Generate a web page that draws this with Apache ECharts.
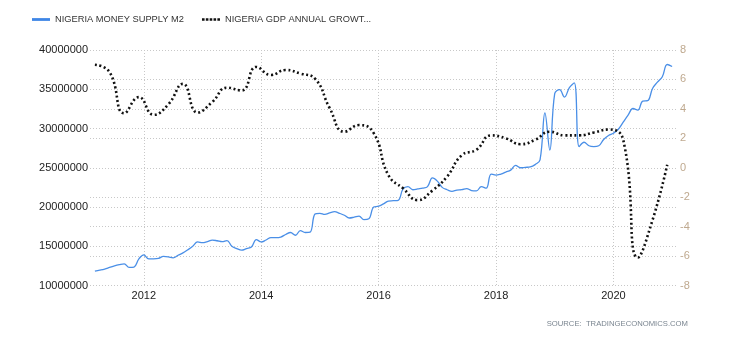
<!DOCTYPE html>
<html>
<head>
<meta charset="utf-8">
<title>Nigeria Money Supply M2 vs GDP Annual Growth</title>
<script src="https://cdn.jsdelivr.net/npm/echarts@6/dist/echarts.min.js"></script>
<style>
  html, body { margin: 0; padding: 0; background: #ffffff; }
  #chart { width: 730px; height: 340px; }
</style>
</head>
<body>
<div id="chart"></div>
<script>
// Money supply M2 (NGN), monthly, first value is March 2011
const m2_2011 = [11820000, 11950000, 12100000, 12300000, 12500000, 12650000, 12750000, 12300000, 12350000, 13400000];
const m2_2012 = [13900000, 13400000, 13400000, 13450000, 13700000, 13650000, 13530000, 13850000, 14150000, 14550000, 15000000, 15550000];
const m2_2013 = [15450000, 15600000, 15780000, 15700000, 15580000, 15720000, 15000000, 14700000, 14500000, 14700000, 14900000, 15850000];
const m2_2014 = [15550000, 15800000, 16100000, 16100000, 16170000, 16500000, 16750000, 16400000, 16980000, 16750000, 16800000, 19100000];
const m2_2015 = [19200000, 19060000, 19250000, 19400000, 19200000, 18950000, 18600000, 18700000, 18850000, 18400000, 18500000, 20000000];
const m2_2016 = [20100000, 20400000, 20750000, 20800000, 20850000, 22300000, 22600000, 22200000, 22300000, 22400000, 22600000, 23700000];
const m2_2017 = [23300000, 22500000, 22200000, 22000000, 22150000, 22200000, 22350000, 22100000, 22050000, 22600000, 22400000, 24200000];
const m2_2018 = [24050000, 24200000, 24450000, 24700000, 25300000, 25000000, 25050000, 25100000, 25400000, 26000000, 32000000, 27250000];
const m2_2019 = [34450000, 34950000, 34000000, 35200000, 35800000, 27700000, 28250000, 27800000, 27700000, 27800000, 28600000, 29100000];
const m2_2020 = [29400000, 29900000, 30800000, 31700000, 32550000, 32350000, 33500000, 33550000, 35100000, 35900000, 36600000, 38150000];
const m2_2021 = [37900000];

// GDP annual growth rate (%), quarterly, placed at quarter-end months
const gdp_2011 = [7.0, 6.5, 3.7, 4.8];
const gdp_2012 = [3.6, 4.3, 5.7, 3.75];
const gdp_2013 = [4.47, 5.44, 5.25, 6.85];
const gdp_2014 = [6.3, 6.64, 6.4, 6.05];
const gdp_2015 = [4.05, 2.45, 2.9, 2.35];
const gdp_2016 = [-0.5, -1.4, -2.2, -1.55];
const gdp_2017 = [-0.6, 0.85, 1.22, 2.2];
const gdp_2018 = [2.0, 1.6, 1.9, 2.45];
const gdp_2019 = [2.2, 2.2, 2.4, 2.6];
const gdp_2020 = [1.9, -6.1, -3.55, 0.2];

const tickYears = ['2012', '2014', '2016', '2018', '2020'];

const M2_NAME = 'NIGERIA MONEY SUPPLY M2';
const GDP_NAME = 'NIGERIA GDP ANNUAL GROWTH RATE';

// Monthly category axis: Feb 2011 .. Feb 2021
const pad = n => (n < 10 ? '0' : '') + n;
const months = [];
for (let y = 2011; y <= 2021; y++) {
  for (let m = 1; m <= 12; m++) {
    if (y === 2011 && m < 2) continue;
    if (y === 2021 && m > 2) break;
    months.push(y + '-' + pad(m));
  }
}

// Pair a run of monthly values with their month labels
function monthly(startLabel, values) {
  const start = months.indexOf(startLabel);
  return values.map((v, i) => [months[start + i], v]);
}
const m2Data = []
  .concat(monthly('2011-03', m2_2011))
  .concat(monthly('2012-01', m2_2012))
  .concat(monthly('2013-01', m2_2013))
  .concat(monthly('2014-01', m2_2014))
  .concat(monthly('2015-01', m2_2015))
  .concat(monthly('2016-01', m2_2016))
  .concat(monthly('2017-01', m2_2017))
  .concat(monthly('2018-01', m2_2018))
  .concat(monthly('2019-01', m2_2019))
  .concat(monthly('2020-01', m2_2020))
  .concat(monthly('2021-01', m2_2021));

const gdpByYear = {
  2011: gdp_2011, 2012: gdp_2012, 2013: gdp_2013, 2014: gdp_2014, 2015: gdp_2015,
  2016: gdp_2016, 2017: gdp_2017, 2018: gdp_2018, 2019: gdp_2019, 2020: gdp_2020
};
const quarterEnd = ['03', '06', '09', '12'];
const gdpData = [];
Object.keys(gdpByYear).forEach(y => {
  gdpByYear[y].forEach((v, q) => gdpData.push([y + '-' + quarterEnd[q], v]));
});

const showYear = (idx, value) => value.slice(5) === '01' && tickYears.indexOf(value.slice(0, 4)) >= 0;

const gridDots = { type: [1, 2], color: '#c8c8c8', width: 1 };
const font = 'Arial, "Liberation Sans", sans-serif';

// Legend swatches: a solid bar and a row of five dots
const dotsIcon = 'path://M0,0h2.6v2.6h-2.6z M3.85,0h2.6v2.6h-2.6z M7.7,0h2.6v2.6h-2.6z M11.55,0h2.6v2.6h-2.6z M15.4,0h2.6v2.6h-2.6z';

const chart = echarts.init(document.getElementById('chart'), null, { renderer: 'canvas' });
chart.setOption({
  animation: false,
  backgroundColor: '#ffffff',
  textStyle: { fontFamily: font },
  legend: {
    left: 27,
    top: 10,
    itemWidth: 18,
    itemHeight: 2.8,
    itemGap: 18,
    textStyle: { fontSize: 9.3, color: '#333', fontFamily: font },
    formatter: name => (name.length > 24 ? name.slice(0, 24) + '...' : name),
    data: [
      { name: M2_NAME, icon: 'rect', itemStyle: { color: '#3f86e6' } },
      { name: GDP_NAME, icon: dotsIcon, itemStyle: { color: '#111' } }
    ]
  },
  grid: { left: 90, right: 53, top: 50, bottom: 54.5, containLabel: false },
  xAxis: {
    type: 'category',
    data: months,
    boundaryGap: false,
    axisLine: { show: false },
    axisTick: { show: false },
    axisLabel: {
      interval: showYear,
      formatter: v => v.slice(0, 4),
      color: '#222',
      fontSize: 11,
      margin: 5
    },
    splitLine: { show: true, interval: showYear, lineStyle: gridDots }
  },
  yAxis: [
    {
      type: 'value',
      position: 'left',
      min: 10000000,
      max: 40000000,
      interval: 5000000,
      axisLine: { show: false },
      axisTick: { show: false },
      axisLabel: { color: '#222', fontSize: 11, margin: 2, formatter: v => String(v) },
      splitLine: { show: true, lineStyle: gridDots }
    },
    {
      type: 'value',
      position: 'right',
      min: -8,
      max: 8,
      interval: 2,
      axisLine: { show: false },
      axisTick: { show: false },
      axisLabel: { color: '#bfa98f', fontSize: 11, margin: 3 },
      splitLine: { show: true, lineStyle: gridDots }
    }
  ],
  series: [
    {
      name: M2_NAME,
      type: 'line',
      yAxisIndex: 0,
      data: m2Data,
      smooth: 0.4,
      symbol: 'none',
      lineStyle: { color: '#4a8fe7', width: 1.3 },
      itemStyle: { color: '#4a8fe7' }
    },
    {
      name: GDP_NAME,
      type: 'line',
      yAxisIndex: 1,
      data: gdpData,
      smooth: 0.5,
      symbol: 'none',
      lineStyle: { color: '#111', width: 2.6, type: [2, 2.6] },
      itemStyle: { color: '#111' }
    }
  ],
  graphic: [
    {
      type: 'text',
      right: 42,
      top: 320,
      style: {
        text: 'SOURCE:  TRADINGECONOMICS.COM',
        fill: '#7a8590',
        font: '7.7px ' + font
      }
    }
  ]
});
</script>
</body>
</html>
